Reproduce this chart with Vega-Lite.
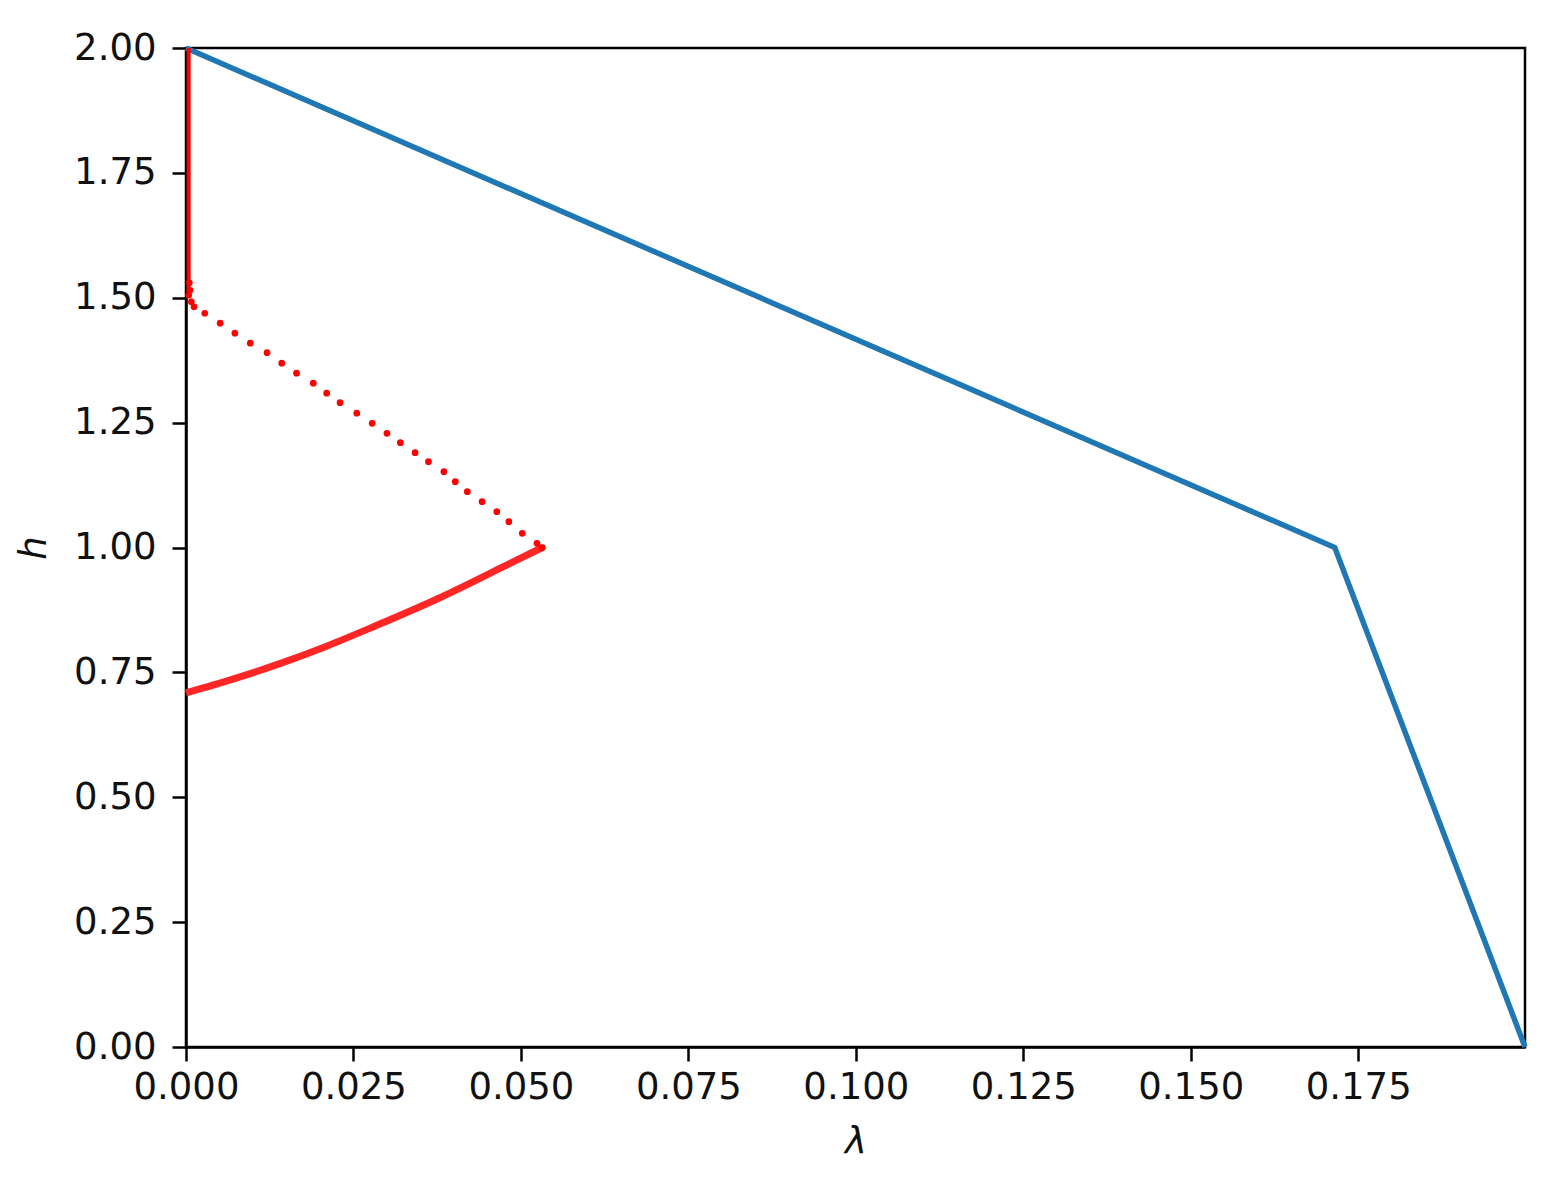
{
  "$schema": "https://vega.github.io/schema/vega-lite/v6.json",
  "width": 1339,
  "height": 999,
  "autosize": {"type": "none"},
  "padding": {"left": 186, "top": 48, "right": 35, "bottom": 139},
  "background": "white",
  "config": {
    "view": {"stroke": "black", "strokeWidth": 2.5},
    "axis": {
      "labelFont": "DejaVu Sans",
      "labelFontSize": 37,
      "labelColor": "#111111",
      "labelFlush": false,
      "titleFont": "DejaVu Sans",
      "titleFontSize": 37,
      "titleFontStyle": "italic",
      "titleFontWeight": "normal",
      "titleColor": "#111111",
      "domainColor": "black",
      "domainWidth": 2.5,
      "tickColor": "black",
      "tickWidth": 2.5,
      "tickSize": 14,
      "grid": false
    }
  },
  "datasets": {
    "blue": [
      {"lam": 0.0, "h": 2.0},
      {"lam": 0.1715, "h": 1.0},
      {"lam": 0.1999, "h": 0.0}
    ],
    "redLower": [
      {"lam": 0.0, "h": 0.709},
      {"lam": 0.007, "h": 0.7365},
      {"lam": 0.014, "h": 0.7675},
      {"lam": 0.021, "h": 0.8025},
      {"lam": 0.028, "h": 0.8415},
      {"lam": 0.0375, "h": 0.897},
      {"lam": 0.0474, "h": 0.9616},
      {"lam": 0.0532, "h": 1.0}
    ],
    "redTop": [
      {"lam": 0.0004, "h": 1.50},
      {"lam": 0.0004, "h": 2.0}
    ],
    "redDots": [
      {"lam": 0.0532, "h": 1.0},
      {"lam": 0.0524, "h": 1.0084},
      {"lam": 0.0502, "h": 1.0284},
      {"lam": 0.0482, "h": 1.0517},
      {"lam": 0.0464, "h": 1.0717},
      {"lam": 0.0442, "h": 1.0917},
      {"lam": 0.0420, "h": 1.1118},
      {"lam": 0.0402, "h": 1.1318},
      {"lam": 0.0385, "h": 1.1518},
      {"lam": 0.0362, "h": 1.1718},
      {"lam": 0.0342, "h": 1.1898},
      {"lam": 0.0320, "h": 1.2098},
      {"lam": 0.0300, "h": 1.2286},
      {"lam": 0.0278, "h": 1.2486},
      {"lam": 0.0255, "h": 1.269},
      {"lam": 0.0230, "h": 1.290},
      {"lam": 0.0210, "h": 1.309},
      {"lam": 0.0190, "h": 1.329},
      {"lam": 0.0165, "h": 1.349},
      {"lam": 0.0143, "h": 1.369},
      {"lam": 0.0121, "h": 1.390},
      {"lam": 0.0096, "h": 1.409},
      {"lam": 0.0073, "h": 1.429},
      {"lam": 0.0051, "h": 1.449},
      {"lam": 0.0028, "h": 1.469},
      {"lam": 0.0012, "h": 1.482},
      {"lam": 0.0008, "h": 1.492},
      {"lam": 0.0004, "h": 1.505},
      {"lam": 0.0006, "h": 1.515},
      {"lam": 0.0005, "h": 1.530}
    ]
  },
  "encoding": {
    "x": {
      "field": "lam", "type": "quantitative",
      "scale": {"domain": [0, 0.1999], "nice": false, "zero": false},
      "axis": {"values": [0, 0.025, 0.05, 0.075, 0.1, 0.125, 0.15, 0.175], "format": ".3f", "title": "λ", "labelPadding": 8, "titlePadding": 18}
    },
    "y": {
      "field": "h", "type": "quantitative",
      "scale": {"domain": [0, 2], "nice": false},
      "axis": {"values": [0, 0.25, 0.5, 0.75, 1, 1.25, 1.5, 1.75, 2], "format": ".2f", "title": "h", "labelPadding": 16, "titlePadding": 20}
    }
  },
  "layer": [
    {
      "data": {"name": "blue"},
      "mark": {"type": "line", "color": "#1f77b4", "strokeWidth": 5.5}
    },
    {
      "data": {"name": "redLower"},
      "mark": {"type": "line", "color": "#ff2626", "strokeWidth": 7, "interpolate": "monotone"}
    },
    {
      "data": {"name": "redTop"},
      "mark": {"type": "line", "color": "#ff0000", "strokeWidth": 4}
    },
    {
      "data": {"name": "redDots"},
      "mark": {"type": "circle", "color": "#ff0000", "size": 45, "opacity": 1}
    }
  ]
}
